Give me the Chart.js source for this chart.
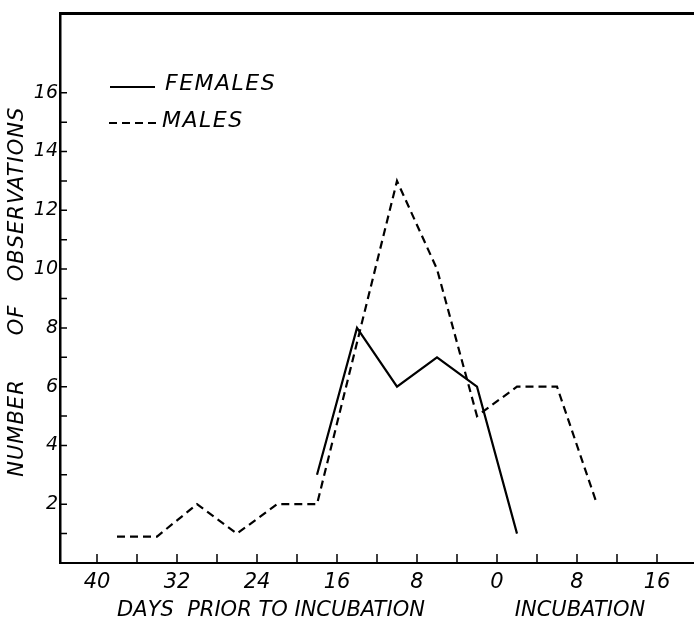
<!DOCTYPE html>
<html>
<head>
<meta charset="utf-8">
<script src="https://cdn.jsdelivr.net/npm/chart.js@4.4.0/dist/chart.umd.min.js"></script>
<style>
  html, body { margin: 0; padding: 0; background: #fff; }
  #wrap { width: 694px; height: 624px; }
</style>
</head>
<body>
<div id="wrap"><canvas id="chart"></canvas></div>
<script>
// days before incubation are negative, days of incubation positive
const femaleDays = [-18, -14, -10, -6, -2, 2];
const femaleCounts = [3, 8, 6, 7, 6, 1];
const maleDays = [-38, -34, -30, -26, -22, -18, -10, -6, -2, 2, 6, 10];
const maleCounts = [0.9, 0.9, 2, 1, 2, 2, 13, 10, 5, 6, 6, 2];

const xTickLabels = [-40, -32, -24, -16, -8, 0, 8, 16];
const xTickMarks = [-40, -36, -32, -28, -24, -20, -16, -12, -8, -4, 0, 4, 8, 12, 16];
const yTickLabels = [2, 4, 6, 8, 10, 12, 14, 16];
const yTickMarks = [1, 2, 3, 4, 5, 6, 7, 8, 9, 10, 11, 12, 13, 14, 15, 16];

const FONT = '"DejaVu Sans", sans-serif';

function toPoints(days, counts) {
  return days.map((d, i) => ({ x: d, y: counts[i] }));
}

const framePlugin = {
  id: 'frame',
  afterDraw(chart) {
    const ctx = chart.ctx;
    const area = chart.chartArea;
    const xs = chart.scales.x;
    const ys = chart.scales.y;
    ctx.save();
    ctx.strokeStyle = '#000';
    ctx.fillStyle = '#000';

    // top border
    ctx.lineWidth = 3;
    ctx.beginPath();
    ctx.moveTo(area.left - 1, area.top);
    ctx.lineTo(area.right, area.top);
    ctx.stroke();

    // inward tick marks
    ctx.lineWidth = 1.5;
    ctx.beginPath();
    xTickMarks.forEach(v => {
      const px = xs.getPixelForValue(v);
      ctx.moveTo(px, area.bottom);
      ctx.lineTo(px, area.bottom - 9);
    });
    yTickMarks.forEach(v => {
      const py = ys.getPixelForValue(v);
      ctx.moveTo(area.left, py);
      ctx.lineTo(area.left + 7, py);
    });
    ctx.stroke();

    // axis titles
    ctx.font = 'italic 21px ' + FONT;
    ctx.textAlign = 'center';
    ctx.textBaseline = 'middle';
    ctx.fillText('DAYS  PRIOR TO INCUBATION', xs.getPixelForValue(-22.6), 611);
    ctx.fillText('INCUBATION', xs.getPixelForValue(8.3), 611);

    ctx.save();
    ctx.translate(18, 0);
    ctx.rotate(-Math.PI / 2);
    ctx.letterSpacing = '1px';
    ctx.fillText('OBSERVATIONS', -194, 0);
    ctx.fillText('OF', -320, 0);
    ctx.fillText('NUMBER', -428, 0);
    ctx.restore();

    // legend
    ctx.lineWidth = 2;
    ctx.beginPath();
    ctx.moveTo(110, 87);
    ctx.lineTo(155, 87);
    ctx.stroke();
    ctx.setLineDash([8, 5]);
    ctx.beginPath();
    ctx.moveTo(109, 123);
    ctx.lineTo(160, 123);
    ctx.stroke();
    ctx.setLineDash([]);
    ctx.font = 'italic 22px ' + FONT;
    ctx.textAlign = 'left';
    ctx.textBaseline = 'alphabetic';
    ctx.letterSpacing = '1.5px';
    ctx.fillText('FEMALES', 165, 90);
    ctx.fillText('MALES', 162, 127);
    ctx.restore();
  }
};

new Chart(document.getElementById('chart'), {
  type: 'line',
  data: {
    datasets: [
      {
        label: 'FEMALES',
        data: toPoints(femaleDays, femaleCounts),
        borderColor: '#000',
        borderWidth: 2.2,
        pointRadius: 0,
        tension: 0
      },
      {
        label: 'MALES',
        data: toPoints(maleDays, maleCounts),
        borderColor: '#000',
        borderWidth: 2.2,
        borderDash: [8, 5],
        pointRadius: 0,
        tension: 0
      }
    ]
  },
  options: {
    responsive: true,
    maintainAspectRatio: false,
    animation: false,
    layout: { padding: { top: 7, right: 0, left: 0, bottom: 0 } },
    plugins: {
      legend: { display: false },
      tooltip: { enabled: false }
    },
    scales: {
      x: {
        type: 'linear',
        min: -43.7,
        max: 19.7,
        grid: { display: false, drawTicks: false },
        border: { display: true, color: '#000', width: 2 },
        afterBuildTicks: s => { s.ticks = xTickLabels.map(v => ({ value: v })); },
        afterFit: s => { s.height = 61; },
        ticks: {
          autoSkip: false,
          maxRotation: 0,
          padding: 7,
          color: '#000',
          font: { family: FONT, size: 21, style: 'italic' },
          callback: v => String(Math.abs(v))
        }
      },
      y: {
        min: 0,
        max: 18.7,
        grid: { display: false, drawTicks: false },
        border: { display: true, color: '#000', width: 2.5 },
        afterBuildTicks: s => { s.ticks = yTickLabels.map(v => ({ value: v })); },
        afterFit: s => { s.width = 60; },
        ticks: {
          autoSkip: false,
          padding: 2,
          color: '#000',
          font: { family: FONT, size: 19, style: 'italic' }
        }
      }
    }
  },
  plugins: [framePlugin]
});
</script>
</body>
</html>
